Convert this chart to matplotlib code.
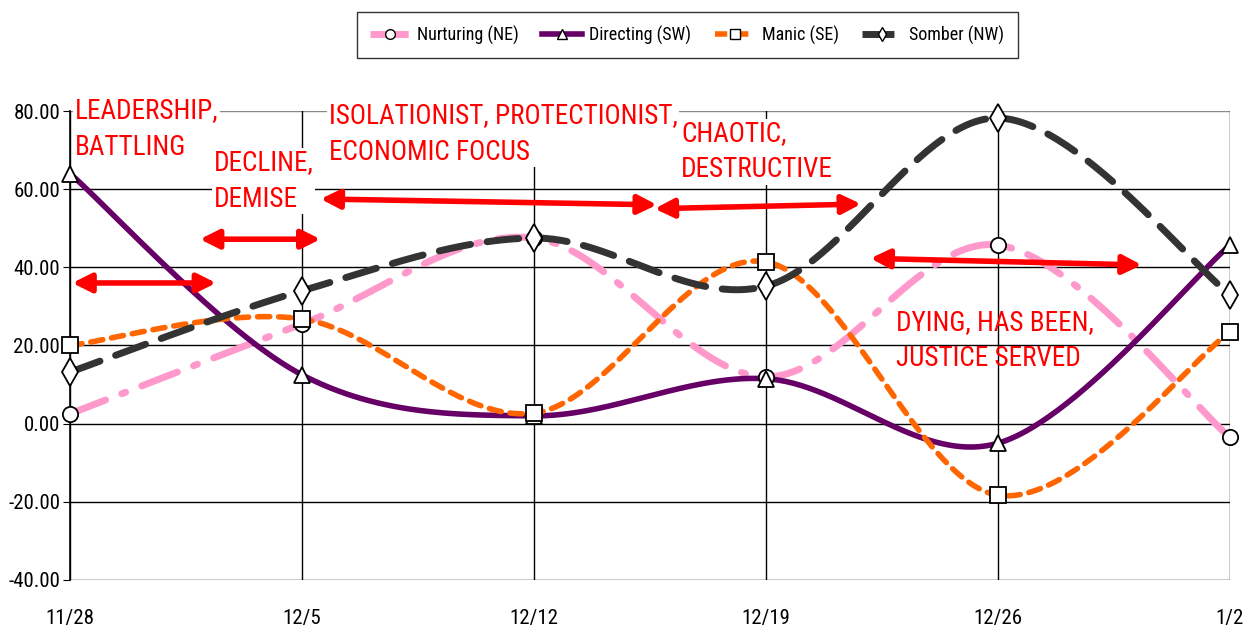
import numpy as np
import matplotlib.pyplot as plt
from matplotlib.lines import Line2D

plt.rcParams['font.family'] = ['Roboto Condensed', 'DejaVu Sans']

# Data
dates = ['11/28', '12/5', '12/12', '12/19', '12/26', '1/2']
nurturing = [2.5, 25.5, 47.5, 12.0, 45.7, -3.5]
directing = [64.0, 12.5, 2.0, 11.5, -5.0, 45.7]
manic = [20.0, 26.8, 2.7, 41.4, -18.3, 23.5]
somber = [13.2, 34.0, 47.5, 35.2, 78.2, 33.0]

names = ['Nurturing (NE)', 'Directing (SW)', 'Manic (SE)', 'Somber (NW)']

# annotation text: (label, x, y_top, white background)
notes = [
    ('LEADERSHIP,\nBATTLING', 0.02, 83.5, True),
    ('DECLINE,\nDEMISE', 0.62, 70.2, True),
    ('ISOLATIONIST, PROTECTIONIST,\nECONOMIC FOCUS', 1.115, 82.2, True),
    ('CHAOTIC,\nDESTRUCTIVE', 2.635, 77.7, True),
    ('DYING, HAS BEEN,\nJUSTICE SERVED', 3.56, 29.4, False),
]
# double arrows: (x0, y0, x1, y1)
arrows = [
    (0.01, 36.0, 0.63, 36.0),
    (0.56, 47.2, 1.08, 47.2),
    (1.08, 57.5, 2.53, 56.0),
    (2.52, 55.0, 3.41, 56.2),
    (3.45, 42.3, 4.62, 40.6),
]


def smooth(y, n=60):
    # Bezier smoothing similar to the spreadsheet "smoothed line"
    y = np.asarray(y, dtype=float)
    x = np.arange(len(y), dtype=float)
    xs, ys = [], []
    for i in range(len(y) - 1):
        xm1, ym1 = (x[i - 1], y[i - 1]) if i > 0 else (x[i], y[i])
        xp2, yp2 = (x[i + 2], y[i + 2]) if i + 2 < len(y) else (x[i + 1], y[i + 1])
        c1 = (x[i] + (x[i + 1] - xm1) / 6, y[i] + (y[i + 1] - ym1) / 6)
        c2 = (x[i + 1] - (xp2 - x[i]) / 6, y[i + 1] - (yp2 - y[i]) / 6)
        t = np.linspace(0, 1, n)
        b0, b1, b2, b3 = (1 - t) ** 3, 3 * t * (1 - t) ** 2, 3 * t ** 2 * (1 - t), t ** 3
        xs.append(b0 * x[i] + b1 * c1[0] + b2 * c2[0] + b3 * x[i + 1])
        ys.append(b0 * y[i] + b1 * c1[1] + b2 * c2[1] + b3 * y[i + 1])
    return np.concatenate(xs), np.concatenate(ys)


fig = plt.figure(figsize=(12.56, 6.34), dpi=100)
ax = fig.add_axes([0.0557, 0.0852, 0.9236, 0.7397])

styles = [
    dict(color='#FF99CC', lw=5, dashes=[5.5, 2.5, 0.6, 2.5], marker='o', ms=11),
    dict(color='#660066', lw=4, dashes=None, marker='^', ms=12),
    dict(color='#FF6600', lw=4, dashes=[2.2, 1.6], marker='s', ms=11),
    dict(color='#333333', lw=5, dashes=[4.6, 2.4], marker='d', ms=14),
]
series = [nurturing, directing, manic, somber]
xi = np.arange(len(dates))

# grid
for v in range(-40, 81, 20):
    ax.axhline(v, color='black' if v < 80 else '#888888', lw=1, zorder=1)
for i in xi:
    ax.axvline(i, color='black', lw=1, zorder=1)

handles = []
for vals, st, nm in zip(series, styles, names):
    sx, sy = smooth(vals)
    ln, = ax.plot(sx, sy, color=st['color'], lw=st['lw'], solid_capstyle='round',
                  dash_capstyle='round', zorder=3)
    if st['dashes']:
        ln.set_dashes(st['dashes'])
    handles.append(Line2D([0], [0], color=st['color'], lw=st['lw'],
                          dashes=st['dashes'] if st['dashes'] else (None, None),
                          marker=st['marker'], ms=7, mfc='white', mec='black', mew=1))

for vals, st in zip(series, styles):
    ax.plot(xi, vals, ls='none', marker=st['marker'], ms=st['ms'], mfc='white',
            mec='black', mew=1.3, zorder=5, clip_on=False)

for txt, x, y, bg in notes:
    kw = dict(facecolor='white', edgecolor='none', pad=1) if bg else None
    ax.text(x, y, txt, color='red', fontsize=19.5, va='top', ha='left',
            linespacing=1.45, bbox=kw, zorder=4, clip_on=False)

for x0, y0, x1, y1 in arrows:
    ax.annotate('', xy=(x1, y1), xytext=(x0, y0),
                arrowprops=dict(arrowstyle='<|-|>', color='red', lw=4,
                                mutation_scale=28, shrinkA=0, shrinkB=0),
                zorder=6)

ax.set_xlim(0, len(dates) - 1)
ax.set_ylim(-40, 80)
ax.set_yticks(range(-40, 81, 20))
ax.set_yticklabels(['%.2f' % v for v in range(-40, 81, 20)], fontsize=15)
ax.set_xticks(xi)
ax.set_xticklabels(dates, fontsize=15)
ax.tick_params(axis='x', length=0, pad=21)
ax.tick_params(axis='y', length=5, pad=2)
for s in ['top', 'right', 'bottom']:
    ax.spines[s].set_visible(False)
ax.spines['left'].set_linewidth(1.2)

fig.legend(handles, names, loc='upper center', bbox_to_anchor=(0.547, 0.995), ncol=4,
           fontsize=13, frameon=True, fancybox=False, edgecolor='black',
           handlelength=2.2, columnspacing=1.3, handletextpad=0.4,
           borderpad=0.75)

fig.savefig('out.png', dpi=100)
